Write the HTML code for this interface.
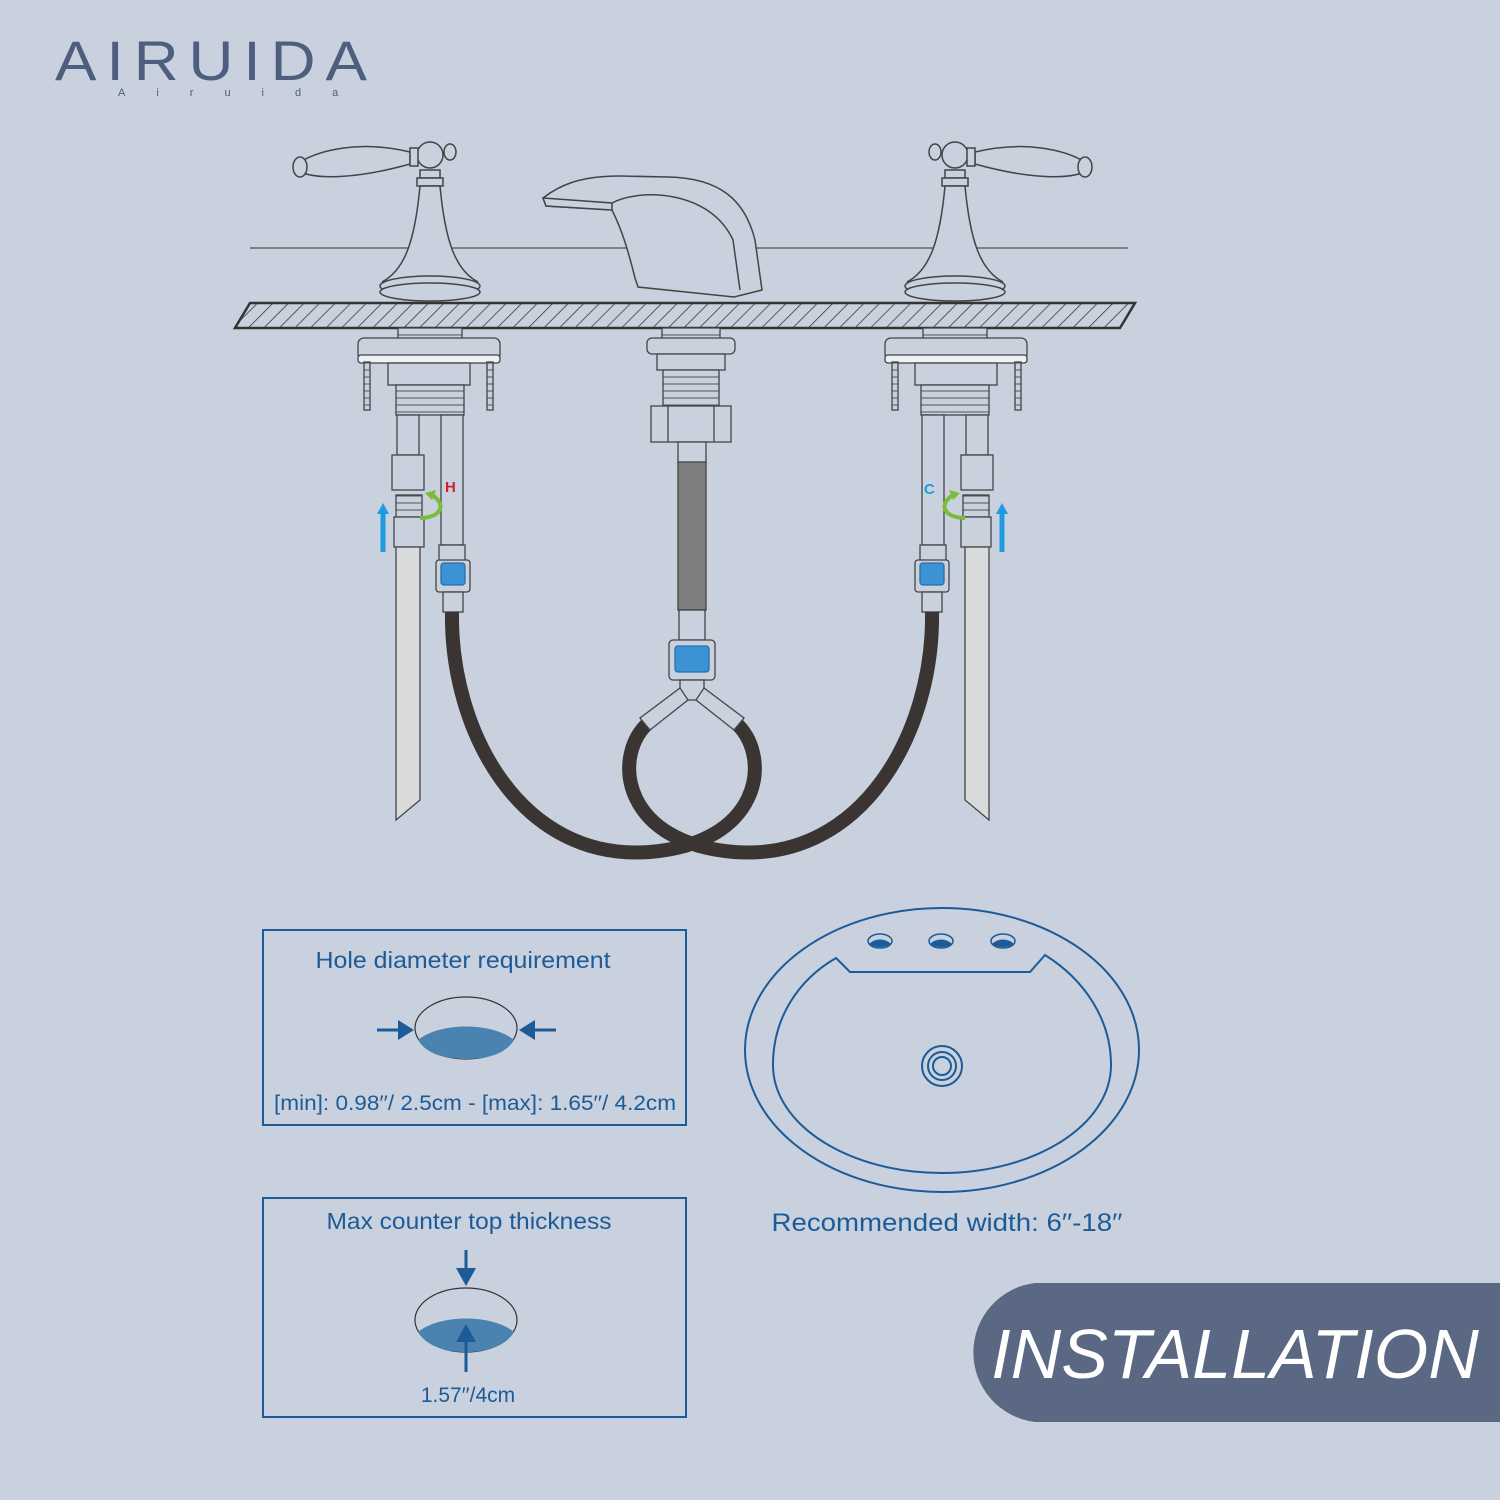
<!DOCTYPE html>
<html><head><meta charset="utf-8"><style>
html,body{margin:0;padding:0;background:#c8d1dd;}
svg{display:block}
text{font-family:"Liberation Sans",sans-serif}
</style></head><body>
<svg width="1500" height="1500" viewBox="0 0 1500 1500" xmlns="http://www.w3.org/2000/svg">
<defs>
<pattern id="hatch" width="11" height="11" patternUnits="userSpaceOnUse" patternTransform="rotate(45)">
<rect width="11" height="11" fill="#c8d1dd"/><line x1="0" y1="0" x2="0" y2="11" stroke="#333" stroke-width="1.5"/>
</pattern>
<pattern id="thr" width="10" height="7" patternUnits="userSpaceOnUse">
<rect width="10" height="7" fill="#c8d1dd"/><line x1="0" y1="6" x2="10" y2="6" stroke="#555" stroke-width="1"/>
</pattern>
</defs>
<rect width="1500" height="1500" fill="#c8d1dd"/>

<!-- logo -->
<g fill="#4e5e7e">
<text x="55" y="80" font-size="56" letter-spacing="9" textLength="322" lengthAdjust="spacingAndGlyphs" fill="#4e5e7e">AIRUIDA</text>
<text x="118" y="96" font-size="11" letter-spacing="31" font-family="Liberation Mono">Airuida</text>
</g>

<!-- back line -->
<line x1="250" y1="248" x2="1128" y2="248" stroke="#666" stroke-width="1.5"/>

<g fill="#c8d1dd" stroke="#444" stroke-width="1.5">
<!-- left handle -->
<path d="M300,162 C320,150 360,140 410,152 L410,164 C360,178 320,180 300,172 Z"/>
<ellipse cx="300" cy="167" rx="7" ry="10"/>
<circle cx="430" cy="155" r="13"/>
<rect x="410" y="148" width="8" height="18"/>
<ellipse cx="450" cy="152" rx="6" ry="8"/>
<rect x="420" y="170" width="20" height="8"/>
<rect x="417" y="178" width="26" height="8"/>
<path d="M420,186 L440,186 C445,240 455,270 478,282 L382,282 C405,270 415,240 420,186 Z"/>
<ellipse cx="430" cy="286" rx="50" ry="10"/>
<ellipse cx="430" cy="292" rx="50" ry="9"/>
<!-- right handle (mirrored) -->
<g transform="translate(1385,0) scale(-1,1)">
<path d="M300,162 C320,150 360,140 410,152 L410,164 C360,178 320,180 300,172 Z"/>
<ellipse cx="300" cy="167" rx="7" ry="10"/>
<circle cx="430" cy="155" r="13"/>
<rect x="410" y="148" width="8" height="18"/>
<ellipse cx="450" cy="152" rx="6" ry="8"/>
<rect x="420" y="170" width="20" height="8"/>
<rect x="417" y="178" width="26" height="8"/>
<path d="M420,186 L440,186 C445,240 455,270 478,282 L382,282 C405,270 415,240 420,186 Z"/>
<ellipse cx="430" cy="286" rx="50" ry="10"/>
<ellipse cx="430" cy="292" rx="50" ry="9"/>
</g>
<!-- spout -->
<path d="M543,198 C560,185 580,176 620,176 L668,177 C720,178 745,200 755,240 L762,290 L734,297 L638,287 L635,278 C628,250 622,230 612,210 L546,206 Z"/>
<path d="M543,198 L612,203 L612,210 L546,206 Z"/>
<path d="M612,203 C640,188 710,190 733,240 L740,290"/>
</g>

<!-- counter -->
<path d="M250,303 L1135,303 L1120,328 L235,328 Z" fill="url(#hatch)" stroke="#333" stroke-width="2.5"/>

<!-- left assembly -->
<g id="assy" stroke="#444" stroke-width="1.3">
<rect x="398" y="328" width="64" height="20" fill="url(#thr)"/>
<rect x="358" y="338" width="142" height="22" rx="6" fill="#c8d1dd"/>
<rect x="358" y="355" width="142" height="8" rx="3" fill="#eef1f5"/>
<rect x="388" y="363" width="82" height="22" fill="#c8d1dd"/>
<rect x="396" y="385" width="68" height="30" fill="url(#thr)"/>
<rect x="364" y="362" width="6" height="48" fill="url(#thr)"/>
<rect x="487" y="362" width="6" height="48" fill="url(#thr)"/>
<rect x="397" y="415" width="22" height="40" fill="#c8d1dd"/>
<rect x="392" y="455" width="32" height="35" fill="#c8d1dd"/>
<rect x="441" y="415" width="22" height="130" fill="#c8d1dd"/>
<rect x="396" y="495" width="26" height="22" fill="url(#thr)"/>
<rect x="394" y="517" width="30" height="30" fill="#c8d1dd"/>
<path d="M396,547 L420,547 L420,800 L396,820 Z" fill="#d8dadc"/>
<rect x="439" y="545" width="26" height="16" fill="#c8d1dd"/>
<rect x="436" y="560" width="34" height="32" rx="3" fill="#c8d1dd"/>
<rect x="441" y="563" width="24" height="22" rx="3" fill="#3b93d6" stroke="#2a6fa8"/>
<rect x="443" y="592" width="20" height="20" fill="#c8d1dd"/>
</g>
<text x="445" y="492" font-size="15" font-weight="bold" fill="#d0202f">H</text>
<path d="M383,552 L383,512" stroke="#1e9be0" stroke-width="5"/>
<path d="M377,514 L383,503 L389,514 Z" fill="#1e9be0"/>
<path d="M420,518 C440,518 448,505 432,495" fill="none" stroke="#7dbb3a" stroke-width="4"/>
<path d="M425,493 L436,490 L432,500 Z" fill="#7dbb3a"/>

<!-- right assembly mirrored -->
<g transform="translate(1385,0) scale(-1,1)">
<use href="#assy"/>
<path d="M383,552 L383,512" stroke="#1e9be0" stroke-width="5"/>
<path d="M377,514 L383,503 L389,514 Z" fill="#1e9be0"/>
<path d="M420,518 C440,518 448,505 432,495" fill="none" stroke="#7dbb3a" stroke-width="4"/>
<path d="M425,493 L436,490 L432,500 Z" fill="#7dbb3a"/>
</g>
<text x="924" y="494" font-size="15" font-weight="bold" fill="#1e9be0">C</text>

<!-- center assembly -->
<g stroke="#444" stroke-width="1.3">
<rect x="662" y="328" width="58" height="12" fill="url(#thr)"/>
<rect x="647" y="338" width="88" height="16" rx="5" fill="#c8d1dd"/>
<rect x="657" y="354" width="68" height="16" fill="#c8d1dd"/>
<rect x="663" y="370" width="56" height="36" fill="url(#thr)"/>
<rect x="651" y="406" width="80" height="36" fill="#c8d1dd"/>
<line x1="668" y1="406" x2="668" y2="442"/><line x1="714" y1="406" x2="714" y2="442"/>
<rect x="678" y="442" width="28" height="22" fill="#c8d1dd"/>
<rect x="678" y="462" width="28" height="148" fill="#7f7f7f"/>
<rect x="679" y="610" width="26" height="30" fill="#c8d1dd"/>
<rect x="669" y="640" width="46" height="40" rx="4" fill="#c8d1dd"/>
<rect x="675" y="646" width="34" height="26" rx="3" fill="#3b93d6" stroke="#2a6fa8"/>
<rect x="680" y="680" width="24" height="20" fill="#c8d1dd"/>
</g>

<!-- hoses -->
<g fill="none" stroke="#3a3533" stroke-width="14">
<path d="M452,612 C450,730 520,862 650,852 C760,843 772,760 738,725"/>
<path d="M932,612 C934,730 864,862 734,852 C624,843 612,760 646,725"/>
</g>
<g stroke="#444" stroke-width="1.3" fill="#c8d1dd">
<path d="M680,688 L640,718 L650,730 L688,700 Z"/>
<path d="M704,688 L744,718 L734,730 L696,700 Z"/>
</g>

<!-- box 1 -->
<rect x="263" y="930" width="423" height="195" fill="none" stroke="#1d5b98" stroke-width="2"/>
<text x="463" y="968" font-size="23" fill="#1d5b98" text-anchor="middle" textLength="295" lengthAdjust="spacingAndGlyphs">Hole diameter requirement</text>
<ellipse cx="466" cy="1028" rx="51" ry="31" fill="#c8d1dd" stroke="#333" stroke-width="1.2"/>
<path d="M418,1040 C440,1022 492,1022 514,1040 C505,1055 485,1059 466,1059 C447,1059 427,1055 418,1040 Z" fill="#4a82b0"/>
<path d="M377,1030 L400,1030" stroke="#1d5b98" stroke-width="3"/><path d="M398,1020 L414,1030 L398,1040 Z" fill="#1d5b98"/>
<path d="M556,1030 L533,1030" stroke="#1d5b98" stroke-width="3"/><path d="M535,1020 L519,1030 L535,1040 Z" fill="#1d5b98"/>
<text x="475" y="1110" font-size="21" fill="#1d5b98" text-anchor="middle" textLength="402" lengthAdjust="spacingAndGlyphs">[min]: 0.98′′/ 2.5cm - [max]: 1.65′′/ 4.2cm</text>

<!-- box 2 -->
<rect x="263" y="1198" width="423" height="219" fill="none" stroke="#1d5b98" stroke-width="2"/>
<text x="469" y="1229" font-size="23" fill="#1d5b98" text-anchor="middle" textLength="285" lengthAdjust="spacingAndGlyphs">Max counter top thickness</text>
<ellipse cx="466" cy="1320" rx="51" ry="32" fill="#c8d1dd" stroke="#333" stroke-width="1.2"/>
<path d="M418,1332 C440,1314 492,1314 514,1332 C505,1347 485,1352 466,1352 C447,1352 427,1347 418,1332 Z" fill="#4a82b0"/>
<path d="M466,1250 L466,1270" stroke="#1d5b98" stroke-width="3"/><path d="M456,1268 L466,1286 L476,1268 Z" fill="#1d5b98"/>
<path d="M466,1372 L466,1340" stroke="#1d5b98" stroke-width="3"/><path d="M456,1342 L466,1324 L476,1342 Z" fill="#1d5b98"/>
<text x="468" y="1402" font-size="21" fill="#1d5b98" text-anchor="middle">1.57′′/4cm</text>

<!-- sink -->
<g fill="none" stroke="#1d5b98" stroke-width="2">
<ellipse cx="942" cy="1050" rx="197" ry="142"/>
<path d="M836,958 L850,972 L1030,972 L1045,955 C1085,980 1111,1020 1111,1065 C1111,1125 1035,1173 942,1173 C849,1173 773,1125 773,1065 C773,1018 798,980 836,958 Z"/>
<circle cx="942" cy="1066" r="20"/><circle cx="942" cy="1066" r="14"/><circle cx="942" cy="1066" r="9"/>
</g>
<g fill="#c8d1dd" stroke="#1d5b98" stroke-width="1.5">
<ellipse cx="880" cy="941" rx="12" ry="7"/><ellipse cx="941" cy="941" rx="12" ry="7"/><ellipse cx="1003" cy="941" rx="12" ry="7"/>
</g>
<g fill="#1d5b98"><path d="M869,944 C875,938 885,938 891,944 C885,948 875,948 869,944 Z"/><path d="M930,944 C936,938 946,938 952,944 C946,948 936,948 930,944 Z"/><path d="M992,944 C998,938 1008,938 1014,944 C1008,948 998,948 992,944 Z"/></g>
<text x="947" y="1231" font-size="25" fill="#1d5b98" text-anchor="middle" textLength="351" lengthAdjust="spacingAndGlyphs">Recommended width: 6′′-18′′</text>

<!-- INSTALLATION -->
<path d="M1035,1283 L1500,1283 L1500,1422 L1035,1422 A70,70 0 0 1 1035,1283 Z" fill="#5b6884"/>
<text x="1235" y="1378" font-size="70" font-style="italic" fill="#ffffff" text-anchor="middle">INSTALLATION</text>
</svg>
</body></html>
